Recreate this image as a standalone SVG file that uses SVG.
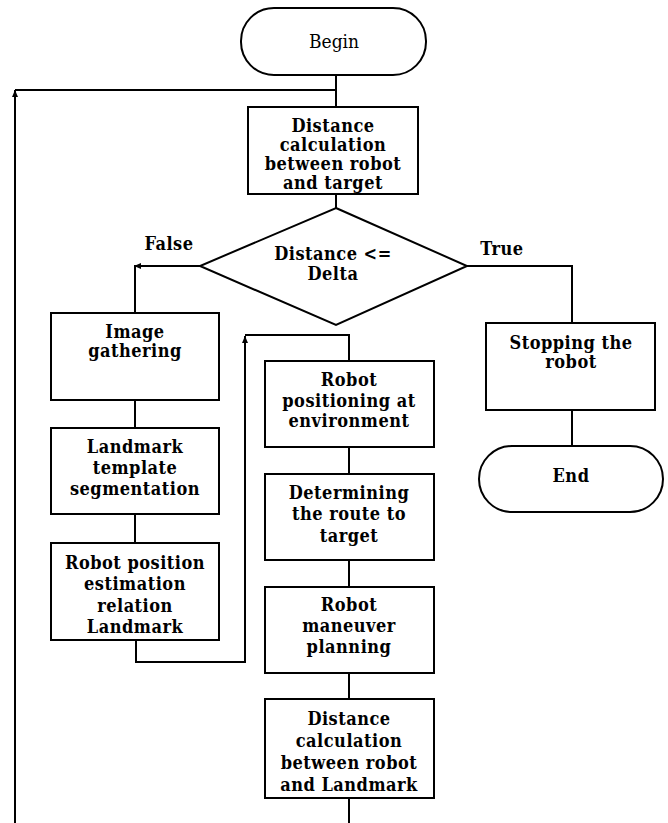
<svg xmlns="http://www.w3.org/2000/svg" width="668" height="823" viewBox="0 0 668 823">
<defs>
<style>
.b{fill:#fff;stroke:#000;stroke-width:2}
.c{fill:none;stroke:#000;stroke-width:2}
text{font-family:"DejaVu Serif Condensed","DejaVu Serif",serif;font-stretch:condensed;font-weight:bold;font-size:18px;letter-spacing:0.5px;text-anchor:middle;dominant-baseline:central;fill:#000}
.n{font-weight:normal;font-size:19px;letter-spacing:0}
</style>
<marker id="ah" markerWidth="8" markerHeight="8" refX="7" refY="4" orient="auto" markerUnits="userSpaceOnUse">
<path d="M0,1 L7,4 L0,7 Z" fill="#000"/>
</marker>
</defs>
<rect width="668" height="823" fill="#fff"/>
<g id="connectors">
<path class="c" d="M336,75 V107"/>
<path class="c" d="M336,90 H15"/>
<path class="c" d="M15,823 V90" marker-end="url(#ah)"/>
<path class="c" d="M336,194 V208"/>
<path class="c" d="M200,266 H134" marker-end="url(#ah)"/>
<path class="c" d="M135,266 V313"/>
<path class="c" d="M467,266 H572 V323"/>
<path class="c" d="M572,410 V446"/>
<path class="c" d="M135,400 V428"/>
<path class="c" d="M135,514 V543"/>
<path class="c" d="M136,640 V662 H245 V336" marker-end="url(#ah)"/>
<path class="c" d="M245,335 H349 V361"/>
<path class="c" d="M349,447 V474"/>
<path class="c" d="M349,560 V587"/>
<path class="c" d="M349,673 V699"/>
<path class="c" d="M349,798 V823"/>
</g>
<g id="begin">
<rect class="b" x="241" y="8" width="185" height="67" rx="33"/>
<text class="n" x="334" y="41">Begin</text>
</g>
<g id="dist-target">
<rect class="b" x="248" y="107" width="170" height="87"/>
<text x="333" y="125">Distance</text>
<text x="333" y="144">calculation</text>
<text x="333" y="163">between robot</text>
<text x="333" y="182">and target</text>
</g>
<g id="decision">
<polygon class="b" points="336,208 467,266 336,325 200,266"/>
<text x="333" y="253">Distance &lt;=</text>
<text x="333" y="273">Delta</text>
</g>
<g id="label-false"><text x="169" y="243">False</text></g>
<g id="label-true"><text x="502" y="248">True</text></g>
<g id="stopping">
<rect class="b" x="486" y="323" width="169" height="87"/>
<text x="571" y="342">Stopping the</text>
<text x="571" y="361">robot</text>
</g>
<g id="end">
<rect class="b" x="479" y="446" width="184" height="66" rx="33"/>
<text x="571" y="475">End</text>
</g>
<g id="image-gathering">
<rect class="b" x="51" y="313" width="168" height="87"/>
<text x="135" y="331">Image</text>
<text x="135" y="350">gathering</text>
</g>
<g id="landmark-seg">
<rect class="b" x="51" y="428" width="168" height="86"/>
<text x="135" y="446">Landmark</text>
<text x="135" y="467">template</text>
<text x="135" y="488">segmentation</text>
</g>
<g id="robot-pos-est">
<rect class="b" x="51" y="543" width="168" height="97"/>
<text x="135" y="562">Robot position</text>
<text x="135" y="583">estimation</text>
<text x="135" y="605">relation</text>
<text x="135" y="626">Landmark</text>
</g>
<g id="robot-positioning">
<rect class="b" x="265" y="361" width="169" height="86"/>
<text x="349" y="379">Robot</text>
<text x="349" y="400">positioning at</text>
<text x="349" y="420">environment</text>
</g>
<g id="determining">
<rect class="b" x="265" y="474" width="169" height="86"/>
<text x="349" y="492">Determining</text>
<text x="349" y="513">the route to</text>
<text x="349" y="535">target</text>
</g>
<g id="maneuver">
<rect class="b" x="265" y="587" width="169" height="86"/>
<text x="349" y="604">Robot</text>
<text x="349" y="625">maneuver</text>
<text x="349" y="646">planning</text>
</g>
<g id="dist-landmark">
<rect class="b" x="265" y="699" width="169" height="99"/>
<text x="349" y="718">Distance</text>
<text x="349" y="740">calculation</text>
<text x="349" y="762">between robot</text>
<text x="349" y="784">and Landmark</text>
</g>
</svg>
